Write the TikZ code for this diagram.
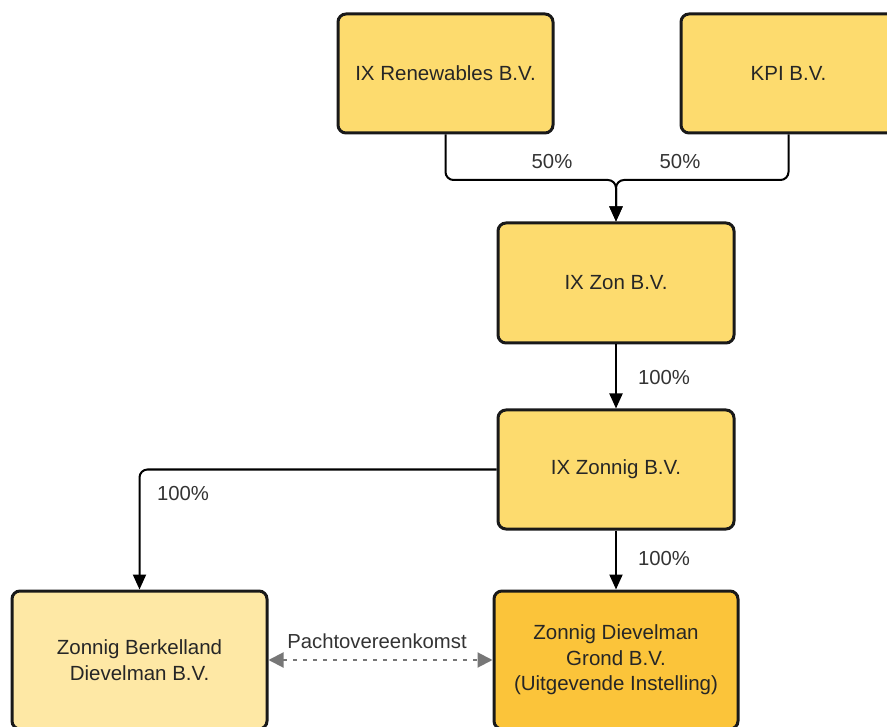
\documentclass[tikz,border=0pt]{standalone}
\usepackage{fontspec}
\setmainfont{Liberation Sans}
\usetikzlibrary{arrows.meta,calc}
\definecolor{boxyellow}{HTML}{FDDB6E}
\definecolor{boxlight}{HTML}{FEE8A5}
\definecolor{boxdark}{HTML}{FBC43A}
\definecolor{leasegray}{HTML}{777777}

\begin{document}
\begin{tikzpicture}[x=1pt,y=-1pt,
      font=\fontsize{20.5}{25.5}\selectfont,
      company/.style={draw=black!90,line width=3pt,rounded corners=8pt,fill=boxyellow,
        text=black!85,align=center,minimum width=215pt,minimum height=119pt,inner sep=0pt},
      owns/.style={line width=2pt,rounded corners=8pt,-{Triangle[length=15pt,width=13pt]}},
      lease/.style={draw=leasegray,line width=2pt,dash pattern=on 4pt off 6pt,
        {Triangle[length=15pt,width=15pt]}-{Triangle[length=15pt,width=15pt]}},
      share/.style={font=\fontsize{20.3}{24}\selectfont,text=black!80}]

      \useasboundingbox (0,0) rectangle (887,727);

      % shareholders
      \node[company] (ren) at (445.5,73.5) {IX Renewables B.V.};
      \node[company] (kpi) at (788.5,73.5) {KPI B.V.};

      % holding chain
      \node[company,minimum width=236pt,minimum height=120pt] (zon) at (616,283) {IX Zon B.V.};
      \node[company,minimum width=236pt] (zonnig) at (616,469.5) {IX Zonnig B.V.};

      % subsidiaries
      \node[company,fill=boxlight,minimum width=255pt,minimum height=138pt] (berk) at (139.5,660)
        {Zonnig Berkelland\\Dievelman B.V.};
      \node[company,fill=boxdark,minimum width=244pt,minimum height=138pt] (grond) at (616,660)
        {Zonnig Dievelman\\Grond B.V.\\(Uitgevende Instelling)};

      \coordinate (join) at (616,180);
      \draw[owns] (ren.south) |- (join) -- (zon.north);
      \draw[owns] (kpi.south) |- (join) -- (zon.north);
      \node[share] (pren) at (552,162) {50\%};
      \node[share] (pkpi) at (680,162) {50\%};

      \draw[owns] (zon.south) -- (zonnig.north);
      \node[share] (pzon) at (664,378) {100\%};

      \draw[owns] (zonnig.west) -| (berk.north);
      \node[share] (pberk) at (183,494) {100\%};

      \draw[owns] (zonnig.south) -- (grond.north);
      \node[share] (pgrond) at (664,559) {100\%};

      \draw[lease] (berk.east) -- (grond.west);
      \node[share] (plea) at (377,641) {Pachtovereenkomst};
\end{tikzpicture}
\end{document}
